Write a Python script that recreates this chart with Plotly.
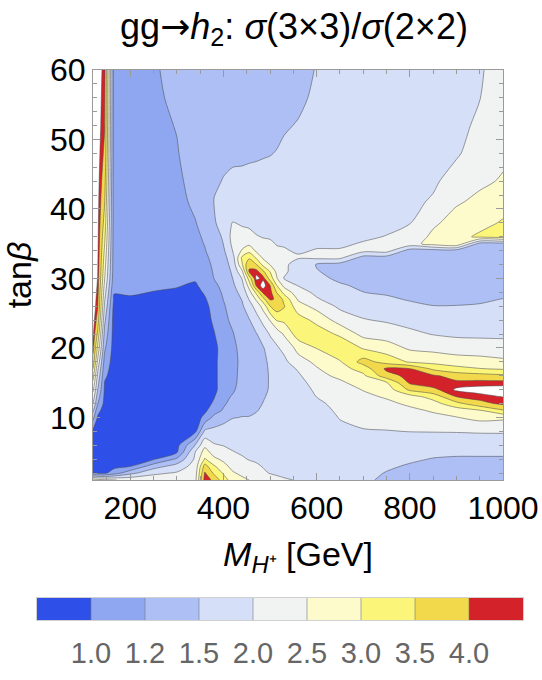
import numpy as np
import plotly.graph_objects as go

# ---- data -------------------------------------------------------------
m_hplus = [120, 130, 145, 165, 200, 250, 300, 340, 360, 380, 400, 420, 440, 455,
           470, 485, 500, 515, 530, 560, 600, 650, 700, 750, 800, 850, 900, 950, 1000]
tan_beta = [1, 2, 3, 4, 5, 6, 8, 10, 11, 12, 13, 14, 15, 16, 17, 18, 20, 22, 24, 26,
            27, 28, 29, 30, 31, 32, 33, 34, 35, 36, 38, 41, 44, 48, 52, 56, 60]

# ratio sigma(3x3)/sigma(2x2) along tan(beta) for each M_H+ column
r120 = [2.8, 0.95, 0.85, 0.85, 0.85, 0.85,
        0.9, 1.3, 1.6, 2.02, 2.3, 2.6, 2.9, 3.2, 3.5, 3.8,
        4.3, 4.7, 4.9, 5.0,
        5.0, 5.0, 5.0, 5.0, 5.0, 5.0, 5.0, 5.0, 5.0, 5.0,
        5.0, 5.0, 5.0, 5.0, 5.0, 5.0, 5.0]
r130 = [2.7, 0.9, 0.8, 0.8, 0.8, 0.8,
        0.8, 0.95, 1.05, 1.22, 1.35, 1.52, 1.7, 1.9, 2.1, 2.4,
        2.9, 3.4, 3.8, 4.1,
        4.22, 4.33, 4.42, 4.48, 4.55, 4.6, 4.63, 4.66, 4.68, 4.7,
        4.73, 4.77, 4.8, 4.83, 4.86, 4.88, 4.9]
r145 = [2.6, 0.9, 0.8, 0.8, 0.8, 0.8,
        0.8, 0.8, 0.82, 0.85, 0.9, 0.93, 0.98, 1.03, 1.07, 1.12,
        1.25, 1.4, 1.6, 1.9,
        2.05, 2.2, 2.35, 2.52, 2.6, 2.7, 2.8, 2.9, 3.02, 3.1,
        3.3, 3.52, 3.7, 3.9, 4.05, 4.15, 4.25]
r165 = [2.52, 1.1, 0.85, 0.8, 0.8, 0.8,
        0.8, 0.8, 0.8, 0.8, 0.8, 0.8, 0.8, 0.8, 0.8, 0.8,
        0.8, 0.8, 0.8, 0.85,
        0.93, 1.01, 1.05, 1.08, 1.1, 1.1, 1.1, 1.1, 1.1, 1.1,
        1.1, 1.1, 1.1, 1.11, 1.11, 1.12, 1.12]
r200 = [2.4, 1.4, 0.95, 0.85, 0.8, 0.78,
        0.75, 0.75, 0.75, 0.75, 0.75, 0.75, 0.75, 0.75, 0.75, 0.75,
        0.75, 0.75, 0.76, 0.82,
        0.92, 1.03, 1.06, 1.08, 1.1, 1.1, 1.1, 1.1, 1.1, 1.1,
        1.11, 1.11, 1.12, 1.12, 1.13, 1.13, 1.14]
r250 = [2.3, 1.9, 1.35, 0.95, 0.85, 0.8,
        0.75, 0.75, 0.75, 0.75, 0.75, 0.75, 0.75, 0.75, 0.75, 0.75,
        0.75, 0.75, 0.76, 0.8,
        0.88, 0.98, 1.04, 1.07, 1.09, 1.1, 1.1, 1.11, 1.11, 1.12,
        1.12, 1.13, 1.14, 1.15, 1.16, 1.17, 1.18]
r300 = [2.2, 2.05, 1.7, 1.25, 0.95, 0.85,
        0.77, 0.77, 0.77, 0.77, 0.77, 0.77, 0.77, 0.77, 0.77, 0.77,
        0.77, 0.77, 0.78, 0.8,
        0.86, 0.95, 1.01, 1.05, 1.08, 1.1, 1.11, 1.12, 1.13, 1.14,
        1.15, 1.16, 1.17, 1.19, 1.21, 1.25, 1.28]
r340 = [2.4, 2.3, 2.2, 2.1, 2.03, 1.55,
        0.92, 0.78, 0.75, 0.75, 0.75, 0.75, 0.75, 0.75, 0.75, 0.75,
        0.75, 0.75, 0.75, 0.77,
        0.8, 0.86, 0.95, 1.02, 1.06, 1.1, 1.12, 1.14, 1.16, 1.17,
        1.195, 1.24, 1.28, 1.32, 1.35, 1.38, 1.4]
r360 = [4.4, 4.1, 3.7, 3.05, 2.7, 2.4,
        1.6, 1.05, 0.9, 0.8, 0.75, 0.75, 0.75, 0.75, 0.75, 0.75,
        0.75, 0.75, 0.77, 0.85,
        0.95, 1.02, 1.06, 1.09, 1.11, 1.13, 1.16, 1.19, 1.21, 1.23,
        1.28, 1.34, 1.38, 1.41, 1.43, 1.44, 1.45]
r380 = [3.9, 3.4, 3.05, 2.6, 2.3, 2.05,
        1.65, 1.28, 1.12, 1.03, 0.97, 0.85, 0.85, 0.85, 0.85, 0.85,
        0.8, 0.97, 1.04, 1.08,
        1.1, 1.14, 1.17, 1.205, 1.23, 1.26, 1.29, 1.32, 1.35, 1.38,
        1.48, 1.51, 1.48, 1.46, 1.46, 1.46, 1.46]
r400 = [3.2, 2.95, 2.65, 2.4, 2.2, 1.98,
        1.7, 1.4, 1.23, 1.17, 1.14, 1.12, 1.12, 1.12, 1.12, 1.12,
        1.13, 1.14, 1.16, 1.18,
        1.205, 1.23, 1.26, 1.3, 1.33, 1.36, 1.4, 1.45, 1.51, 1.56,
        1.63, 1.6, 1.51, 1.47, 1.47, 1.47, 1.47]
r420 = [2.8, 2.55, 2.35, 2.2, 2.02, 1.92,
        1.72, 1.49, 1.42, 1.3, 1.23, 1.17, 1.15, 1.15, 1.15, 1.15,
        1.16, 1.19, 1.25, 1.32,
        1.36, 1.4, 1.45, 1.505, 1.58, 1.68, 1.8, 2.02, 2.12, 2.18,
        2.02, 1.75, 1.55, 1.47, 1.46, 1.46, 1.46]
r440 = [2.6, 2.4, 2.2, 2.05, 1.95, 1.85,
        1.72, 1.51, 1.46, 1.42, 1.38, 1.33, 1.3, 1.28, 1.27, 1.26,
        1.28, 1.32, 1.38, 1.46,
        1.52, 1.65, 1.82, 2.02, 2.4, 2.95, 3.1, 2.55, 2.3, 2.15,
        1.95, 1.7, 1.56, 1.47, 1.46, 1.46, 1.46]
r455 = [2.5, 2.3, 2.12, 1.98, 1.9, 1.82,
        1.68, 1.51, 1.47, 1.43, 1.4, 1.38, 1.37, 1.36, 1.36, 1.36,
        1.38, 1.42, 1.48, 1.75,
        2.02, 2.3, 2.7, 3.2, 4.05, 3.95, 3.4, 2.85, 2.4, 2.15,
        1.9, 1.68, 1.56, 1.48, 1.46, 1.46, 1.45]
r470 = [2.4, 2.2, 2.05, 1.95, 1.88, 1.8,
        1.62, 1.52, 1.495, 1.47, 1.45, 1.44, 1.43, 1.43, 1.44, 1.45,
        1.46, 1.48, 1.75, 2.2,
        2.55, 3.1, 4.05, 4.6, 4.4, 3.55, 2.95, 2.42, 2.25, 2.03,
        1.85, 1.65, 1.56, 1.485, 1.46, 1.45, 1.45]
r485 = [2.3, 2.06, 1.98, 1.9, 1.84, 1.77,
        1.63, 1.55, 1.52, 1.505, 1.49, 1.47, 1.46, 1.46, 1.46, 1.46,
        1.48, 1.7, 2.15, 2.65,
        3.3, 4.2, 4.75, 4.4, 3.6, 2.85, 2.42, 2.25, 2.1, 1.98,
        1.85, 1.68, 1.57, 1.49, 1.46, 1.45, 1.44]
r500 = [2.2, 1.98, 1.9, 1.83, 1.77, 1.72,
        1.63, 1.57, 1.55, 1.54, 1.53, 1.52, 1.52, 1.52, 1.53, 1.55,
        1.7, 2.05, 2.52, 3.48,
        4.1, 4.3, 4.02, 3.3, 2.98, 2.48, 2.3, 2.15, 2.05, 1.97,
        1.83, 1.68, 1.58, 1.495, 1.47, 1.45, 1.44]
r515 = [2.12, 1.93, 1.86, 1.8, 1.75, 1.71,
        1.64, 1.6, 1.58, 1.57, 1.57, 1.57, 1.58, 1.6, 1.62, 1.65,
        1.95, 2.2, 3.05, 3.8,
        3.95, 3.45, 2.98, 2.52, 2.35, 2.25, 2.15, 2.05, 1.98, 1.92,
        1.82, 1.68, 1.58, 1.51, 1.47, 1.45, 1.44]
r530 = [2.05, 1.9, 1.83, 1.78, 1.74, 1.7,
        1.65, 1.62, 1.61, 1.6, 1.6, 1.6, 1.61, 1.65, 1.75, 1.88,
        2.12, 2.55, 3.1, 3.55,
        3.35, 2.85, 2.35, 1.98, 2.08, 2.1, 2.08, 2.03, 1.97, 1.92,
        1.82, 1.7, 1.6, 1.53, 1.49, 1.46, 1.44]
r560 = [1.97, 1.88, 1.82, 1.78, 1.75, 1.72,
        1.68, 1.65, 1.64, 1.64, 1.65, 1.68, 1.78, 1.92, 2.05, 2.3,
        2.65, 3.25, 3.25, 2.7,
        2.45, 2.2, 1.98, 1.85, 1.8, 1.8, 2.04, 1.96, 1.9, 1.86,
        1.8, 1.7, 1.62, 1.55, 1.51, 1.48, 1.46]
r600 = [1.88, 1.82, 1.78, 1.75, 1.73, 1.72,
        1.72, 1.78, 1.83, 1.9, 2.01, 2.12, 2.25, 2.36, 2.46, 2.6,
        3.02, 3.3, 2.85, 2.35,
        2.05, 1.9, 1.75, 1.62, 1.53, 1.48, 2.1, 2.02, 1.95, 1.9,
        1.82, 1.72, 1.64, 1.58, 1.55, 1.53, 1.51]
r650 = [1.75, 1.74, 1.74, 1.75, 1.77, 1.8,
        1.9, 2.02, 2.08, 2.15, 2.22, 2.3, 2.42, 2.6, 2.8, 2.95,
        3.45, 2.9, 2.3, 1.9,
        1.75, 1.65, 1.55, 1.45, 1.4, 1.38, 2.12, 2.02, 1.96, 1.92,
        1.85, 1.76, 1.68, 1.62, 1.58, 1.56, 1.55]
r700 = [1.58, 1.6, 1.63, 1.66, 1.7, 1.75,
        1.97, 2.12, 2.2, 2.3, 2.4, 2.52, 2.7, 2.9, 3.2, 3.7,
        2.95, 2.35, 2.03, 1.8,
        1.65, 1.505, 1.45, 1.42, 1.4, 1.38, 1.38, 2.15, 2.02, 1.96,
        1.88, 1.8, 1.72, 1.66, 1.62, 1.6, 1.59]
r750 = [1.45, 1.49, 1.55, 1.6, 1.65, 1.72,
        1.98, 2.2, 2.3, 2.4, 2.55, 2.72, 2.95, 3.8, 4.2, 3.3,
        2.75, 2.25, 1.95, 1.7,
        1.57, 1.47, 1.43, 1.4, 1.38, 1.37, 1.37, 2.2, 2.1, 2.01,
        1.93, 1.85, 1.78, 1.72, 1.68, 1.65, 1.64]
r800 = [1.4, 1.43, 1.48, 1.55, 1.62, 1.7,
        2.01, 2.28, 2.4, 2.58, 2.8, 3.6, 4.15, 4.3, 4.05, 2.95,
        2.42, 2.1, 1.85, 1.6,
        1.48, 1.43, 1.4, 1.38, 1.37, 1.36, 1.36, 1.36, 2.3, 2.2,
        1.98, 1.9, 1.83, 1.77, 1.73, 1.7, 1.69]
r850 = [1.38, 1.4, 1.45, 1.49, 1.58, 1.67,
        2.02, 2.38, 2.55, 2.8, 3.2, 3.9, 4.45, 4.15, 3.4, 2.85,
        2.35, 1.98, 1.75, 1.51,
        1.45, 1.42, 1.4, 1.38, 1.37, 1.36, 1.36, 1.37, 2.7, 2.6,
        2.42, 2.05, 1.93, 1.86, 1.8, 1.77, 1.75]
r900 = [1.36, 1.38, 1.42, 1.48, 1.55, 1.65,
        2.03, 2.48, 2.72, 3.35, 4.02, 4.6, 4.2, 3.8, 3.15, 2.75,
        2.25, 1.92, 1.7, 1.51,
        1.46, 1.42, 1.4, 1.38, 1.37, 1.36, 1.36, 1.36, 2.95, 2.85,
        2.68, 2.45, 2.18, 1.95, 1.88, 1.84, 1.82]
r950 = [1.36, 1.38, 1.42, 1.48, 1.55, 1.67,
        2.05, 2.65, 2.95, 3.85, 4.35, 4.7, 4.3, 3.7, 3.02, 2.7,
        2.22, 1.91, 1.7, 1.53,
        1.47, 1.43, 1.4, 1.38, 1.37, 1.36, 1.36, 1.36, 1.38, 3.08,
        2.85, 2.6, 2.42, 2.2, 2.08, 1.99, 1.95]
r1000 = [1.36, 1.38, 1.42, 1.48, 1.55, 1.7,
         2.05, 2.6, 3.45, 4.2, 4.52, 4.75, 4.3, 3.6, 2.95, 2.6,
         2.2, 1.9, 1.7, 1.55,
         1.51, 1.45, 1.42, 1.4, 1.38, 1.37, 1.36, 1.36, 1.4, 3.2,
         3.05, 2.8, 2.54, 2.42, 2.33, 2.26, 2.22]

levels = [1.0, 1.2, 1.5, 2.0, 2.5, 3.0, 3.5, 4.0]
level_labels = ["1.0", "1.2", "1.5", "2.0", "2.5", "3.0", "3.5", "4.0"]
band_colors = ["#2f50e8", "#8fa7f0", "#adbff5", "#d5dff8", "#f1f2f2",
               "#fdfbcb", "#fbf679", "#f2d94c", "#d4222b"]
blank_above = 4.5   # beyond the plotted range -> left white

# ---- build --------------------------------------------------------------
columns = [r120, r130, r145, r165, r200, r250, r300, r340, r360, r380, r400, r420,
           r440, r455, r470, r485, r500, r515, r530, r560, r600, r650, r700, r750,
           r800, r850, r900, r950, r1000]
for c in columns:
    assert len(c) == len(tan_beta), len(c)
z = np.array(columns, dtype=float).T

# map the uneven levels onto equally spaced band indices
edges = [0.5] + levels + [5.0]
idx = list(range(len(edges)))
zi = np.interp(z, edges, idx)
blank_idx = float(np.interp(blank_above, edges, idx))

n = len(band_colors) - 1
cscale = [[k / n, band_colors[k]] for k in range(n + 1)]
line_col = "rgba(70,70,70,0.75)"
font_fam = "Liberation Sans, Arial, sans-serif"

# page geometry (pixels)
W, H = 542, 680
PL, PR, PT, PB = 93, 503, 70, 480          # main plotting area
BL, BR, BT, BB = 37, 523, 598, 620          # colour key bar
mL, mR, mT, mB = BL, W - BR, PT, H - BB
paper_w, paper_h = W - mL - mR, H - mT - mB

fig = go.Figure()
fig.add_trace(go.Contour(
    x=m_hplus, y=tan_beta, z=zi, xaxis="x", yaxis="y",
    contours=dict(start=1, end=len(levels), size=1, coloring="fill", showlines=True),
    line=dict(color=line_col, width=0.7, smoothing=0.8),
    colorscale=cscale, showscale=False, hoverinfo="skip",
))
fig.add_trace(go.Contour(
    x=m_hplus, y=tan_beta, z=zi, xaxis="x", yaxis="y",
    contours=dict(start=blank_idx, end=blank_idx, size=1, coloring="fill", showlines=True),
    line=dict(color=line_col, width=0.7, smoothing=0.8),
    colorscale=[[0, "rgba(255,255,255,0)"], [1, "rgba(255,255,255,1)"]],
    showscale=False, hoverinfo="skip",
))

# colour key: one cell per band, labels on the band edges
band_pos = [k + 0.5 for k in range(len(band_colors))]
fig.add_trace(go.Heatmap(
    x=band_pos, y=[0.5], z=[list(range(len(band_colors)))], xaxis="x2", yaxis="y2",
    colorscale=cscale, zmin=0, zmax=n, showscale=False, hoverinfo="skip",
))
div_x, div_y = [], []
for k in range(1, len(band_colors)):
    div_x += [k, k, None]
    div_y += [0, 1, None]
fig.add_trace(go.Scatter(x=div_x, y=div_y, mode="lines", xaxis="x2", yaxis="y2",
                         line=dict(color="rgba(120,120,120,0.6)", width=1),
                         hoverinfo="skip", showlegend=False))

axis_common = dict(showline=True, linecolor="#9a9a9a", linewidth=1, mirror="ticks",
                   ticks="inside", tickcolor="#9a9a9a", ticklen=7, tickwidth=1,
                   showgrid=False, zeroline=False, automargin=False,
                   tickfont=dict(size=32, color="black", family=font_fam))

fig.update_layout(
    width=W, height=H,
    margin=dict(l=mL, r=mR, t=mT, b=mB),
    paper_bgcolor="white", plot_bgcolor="white",
    showlegend=False,
    title=dict(text='gg<span style="font-family:DejaVu Sans">→</span><i>h</i><sub>2</sub>: '
                    '<i>σ</i>(3×3)/<i>σ</i>(2×2)',
               font=dict(size=36, color="black", family=font_fam),
               xref="container", yref="container",
               x=294 / W, xanchor="center", y=1 - 26 / H, yanchor="middle"),
    xaxis=dict(domain=[(PL - mL) / paper_w, (PR - mL) / paper_w], anchor="y",
               range=[120, 1000], tickvals=[200, 400, 600, 800, 1000],
               minor=dict(ticks="inside", dtick=50, tick0=0, ticklen=4, tickcolor="#9a9a9a"),
               title=dict(text="<i>M</i><sub><i>H</i>⁺</sub> [GeV]",
                          font=dict(size=34, color="black", family=font_fam), standoff=16),
               **axis_common),
    yaxis=dict(domain=[(BB - PB) / paper_h, 1], anchor="x",
               range=[1, 60], tickvals=[10, 20, 30, 40, 50, 60],
               minor=dict(ticks="inside", dtick=2, tick0=0, ticklen=4, tickcolor="#9a9a9a"),
               title=dict(text="tan<i>β</i>",
                          font=dict(size=34, color="black", family=font_fam), standoff=8),
               **axis_common),
    xaxis2=dict(domain=[0, 1], anchor="y2", range=[0, len(band_colors)],
                tickvals=list(range(1, len(band_colors))), ticktext=level_labels,
                ticks="outside", ticklen=7, tickcolor="rgba(0,0,0,0)",
                showline=True, linecolor="#d0d0d0", mirror=True,
                showgrid=False, zeroline=False, automargin=False,
                tickfont=dict(size=29, color="#666666", family=font_fam)),
    yaxis2=dict(domain=[0, (BB - BT) / paper_h], anchor="x2", range=[0, 1],
                showticklabels=False, ticks="", showline=True, linecolor="#d0d0d0",
                mirror=True, showgrid=False, zeroline=False, automargin=False),
)

fig.write_html("out.html")
